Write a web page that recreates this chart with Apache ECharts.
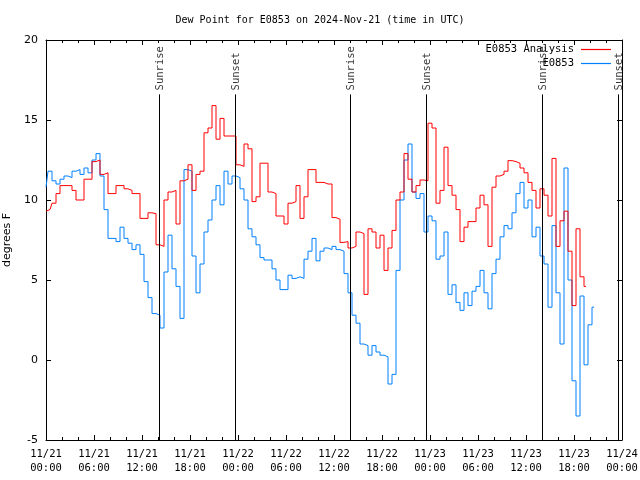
<!DOCTYPE html>
<html>
<head>
<meta charset="utf-8">
<script src="https://cdn.jsdelivr.net/npm/echarts@6/dist/echarts.min.js"></script>
<style>html,body{margin:0;padding:0;background:#fff;}#c{width:640px;height:480px;}</style>
</head>
<body>
<div id="c"></div>
<script>
// Hours since 2024-11-21 00:00 UTC, sampled every 30 minutes
const stepHours = 0.5;
const observedName = 'E0853';
const analysisName = 'E0853 Analysis';
const observedValues = [
  10.8, 11.8, 11.2, 11.0, 11.3, 11.5, 11.4, 11.8, 11.9, 11.6,
  12.0, 11.7, 12.5, 12.9, 11.5, 9.4, 7.6, 7.6, 7.4, 8.3,
  7.6, 7.3, 6.9, 7.2, 6.6, 4.9, 3.9, 2.9, 2.8, 2.0,
  5.5, 7.8, 5.7, 4.6, 2.6, 11.9, 11.8, 6.5, 4.2, 6.0,
  8.0, 8.75, 10.0, 10.9, 9.7, 11.8, 11.0, 11.5, 11.4, 10.7,
  10.0, 8.2, 7.7, 7.2, 6.4, 6.25, 6.25, 5.7, 5.0, 4.4,
  4.4, 5.3, 5.1, 5.2, 5.1, 6.3, 6.8, 7.6, 6.2, 6.8,
  7.0, 6.9, 7.1, 6.9, 6.8, 5.4, 4.2, 2.8, 2.3, 1.0,
  0.9, 0.3, 0.9, 0.5, 0.3, 0.2, -1.5, -0.9, 5.6, 10.0,
  12.5, 13.5, 10.5, 10.1, 10.4, 8.0, 9.0, 8.7, 6.3, 6.5,
  8.0, 4.1, 4.7, 3.6, 3.1, 4.2, 3.4, 4.3, 4.6, 5.6,
  4.2, 3.2, 5.4, 6.3, 7.7, 8.4, 8.2, 9.2, 10.4, 11.1,
  9.5, 10.0, 7.7, 8.3, 6.5, 6.0, 3.3, 8.4, 4.2, 1.0,
  12.0, 5.0, -1.3, -3.5, 4.0, -0.3, 2.2, 3.3
];
const analysisValues = [
  9.3, 9.4, 9.8, 10.4, 10.9, 10.9, 10.9, 10.6, 10.0, 10.0,
  11.3, 11.3, 12.4, 12.5, 11.6, 11.7, 10.4, 10.4, 10.9, 10.9,
  10.7, 10.6, 10.4, 10.4, 8.85, 8.85, 9.2, 9.15, 7.2, 7.1,
  10.0, 10.5, 10.6, 8.5, 11.2, 11.3, 12.2, 10.6, 11.6, 11.8,
  14.2, 14.5, 15.9, 13.8, 15.1, 14.0, 14.0, 14.0, 12.2, 12.1,
  13.5, 13.2, 9.9, 10.2, 12.3, 12.3, 10.5, 10.4, 9.0, 9.0,
  8.5, 9.8, 9.9, 10.9, 8.85, 10.2, 11.9, 11.9, 11.1, 11.1,
  11.0, 11.0, 8.9, 8.8, 7.35, 7.4, 7.0, 7.1, 8.0, 7.9,
  4.1, 8.2, 8.0, 7.0, 7.8, 5.6, 7.0, 8.1, 10.0, 10.5,
  12.9, 11.3, 10.5, 10.9, 11.25, 11.2, 14.8, 14.5, 9.8, 10.6,
  13.3, 10.9, 10.3, 9.4, 7.4, 8.3, 8.65, 8.65, 9.5, 10.3,
  9.7, 7.1, 10.8, 11.5, 11.6, 11.8, 12.46, 12.4, 12.3, 12.0,
  11.7, 11.1, 10.6, 9.5, 10.7, 10.3, 9.0, 12.6, 7.1, 8.7,
  9.3, 6.8, 3.4, 8.2, 5.2, 4.6
];
const sunNames = ['Sunrise', 'Sunset', 'Sunrise', 'Sunset', 'Sunrise', 'Sunset'];
const sunTimes = [14.1, 23.6, 38.05, 47.55, 62.05, 71.55];
const yTicks = [-5, 0, 5, 10, 15, 20];

const toPairs = vals => vals.map((v, i) => [i * stepHours, v]);
const pad = n => (n < 10 ? '0' : '') + n;
const xLabel = v => {
  const day = 21 + Math.floor(v / 24);
  const hr = Math.round(v % 24);
  return '11/' + day + '\n' + pad(hr) + ':00';
};
const mono = 'DejaVu Sans Mono';
const chart = echarts.init(document.getElementById('c'), null, {renderer: 'canvas'});
const axisBase = {
  type: 'value', min: 0, max: 72, interval: 6,
  axisLine: {show: true, onZero: false, lineStyle: {color: '#000', width: 1}},
  axisTick: {show: true, inside: true, length: 5, lineStyle: {color: '#000'}},
  minorTick: {show: true, splitNumber: 3, length: 3, lineStyle: {color: '#000'}},
  splitLine: {show: false}
};
const yBase = {
  type: 'value', min: yTicks[0], max: yTicks[yTicks.length - 1], interval: 5,
  axisLine: {show: true, onZero: false, lineStyle: {color: '#000', width: 1}},
  axisTick: {show: true, inside: true, length: 5, lineStyle: {color: '#000'}},
  splitLine: {show: false}
};
chart.setOption({
  animation: false,
  backgroundColor: '#fff',
  title: {
    text: 'Dew Point for E0853 on 2024-Nov-21 (time in UTC)',
    left: 'center', top: 10,
    textStyle: {fontFamily: mono, fontSize: 10, fontWeight: 'normal', color: '#000'}
  },
  legend: [
    {
      data: [analysisName], right: 24, top: 39, orient: 'vertical', align: 'right',
      icon: 'rect', itemWidth: 30, itemHeight: 1.2, itemGap: 4,
      textStyle: {fontFamily: mono, fontSize: 10.5, color: '#000', padding: [0, 2, 0, 0]}
    },
    {
      data: [observedName], right: 24, top: 53, orient: 'vertical', align: 'right',
      icon: 'rect', itemWidth: 30, itemHeight: 1.2,
      textStyle: {fontFamily: mono, fontSize: 10.5, color: '#000', padding: [0, 2, 0, 0]}
    }
  ],
  grid: {left: 46, right: 18, top: 40, bottom: 40, containLabel: false, outerBoundsMode: 'none'},
  xAxis: [
    Object.assign({}, axisBase, {
      position: 'bottom',
      axisLabel: {show: true, formatter: xLabel, fontFamily: mono, fontSize: 10.5, color: '#000', margin: 7, lineHeight: 14}
    }),
    Object.assign({}, axisBase, {position: 'top', axisLabel: {show: false}})
  ],
  yAxis: [
    Object.assign({}, yBase, {
      position: 'left', name: 'degrees F', nameLocation: 'middle', nameGap: 30,
      nameTextStyle: {fontFamily: 'DejaVu Sans', fontSize: 11, color: '#000'},
      axisLabel: {fontFamily: 'DejaVu Sans', fontSize: 11, color: '#000', margin: 8}
    }),
    Object.assign({}, yBase, {position: 'right', axisLabel: {show: false}})
  ],
  series: [
    {
      name: analysisName, type: 'line', step: 'middle', showSymbol: false, symbol: 'none',
      data: toPairs(analysisValues), lineStyle: {color: '#ff0000', width: 1}, itemStyle: {color: '#ff0000'}, z: 3
    },
    {
      name: observedName, type: 'line', step: 'middle', showSymbol: false, symbol: 'none',
      data: toPairs(observedValues), lineStyle: {color: '#0080ff', width: 1}, itemStyle: {color: '#0080ff'}, z: 2
    },
    {
      name: 'sun', type: 'scatter', symbolSize: 0, silent: true, z: 4,
      data: sunTimes.map((t, i) => ({value: [t, 16.6], name: sunNames[i]})),
      label: {
        show: true, formatter: p => p.name, rotate: 90, position: 'inside',
        align: 'left', verticalAlign: 'middle', offset: [4, 1],
        fontFamily: mono, fontSize: 10.5, color: '#000'
      },
      markLine: {
        silent: true, symbol: 'none', label: {show: false},
        lineStyle: {color: '#000', width: 1, type: 'solid'},
        data: sunTimes.map(t => [{coord: [t, yTicks[0]]}, {coord: [t, 16.6]}])
      }
    }
  ]
});
</script>
</body>
</html>
